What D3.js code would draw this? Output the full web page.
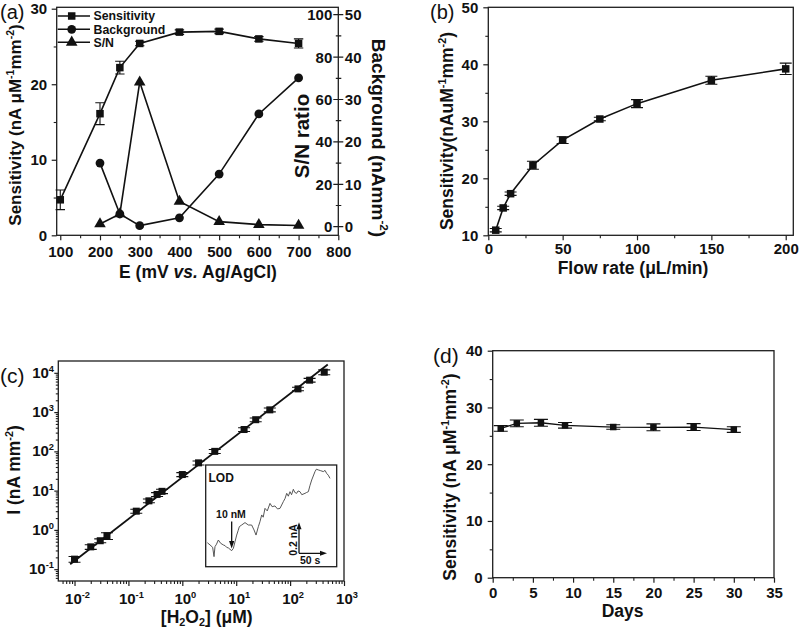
<!DOCTYPE html>
<html><head><meta charset="utf-8">
<script src="https://cdn.jsdelivr.net/npm/d3@7"></script>
<style>body{margin:0;background:#fff}</style>
</head><body><svg id="c" width="800" height="630" xmlns="http://www.w3.org/2000/svg"></svg>
<script>
// ---------- Panel (a) ----------
const aPotential = [100,200,250,300,400,500,600,700];
const aSensitivity = [4.7,16.1,22.2,25.4,26.9,27.0,26.0,25.4];
const aSensErr = [1.3,1.45,0.85,0.3,0.3,0.3,0.3,0.6];
const aBgPotential = [200,250,300,400,500,600,700];
const aBackground = [15.0,3.0,0.25,2.1,12.4,26.6,35.1];
const aSNPotential = [200,250,300,400,500,600,700];
const aSN = [1.3,6.0,68.2,11.9,2.4,1.0,0.6];
const aXTicks = [100,200,300,400,500,600,700,800];
const aYTicks = [0,10,20,30];
const aSNTicks = [0,20,40,60,80,100];
const aBgTicks = [0,10,20,30,40,50];
const aLegend = ["Sensitivity","Background","S/N"];

// ---------- Panel (b) ----------
const bFlow = [5,10,15,30,50,75,100,150,200];
const bSens = [10.9,14.8,17.3,22.3,26.7,30.4,33.1,37.2,39.2];
const bErr = [0.3,0.3,0.3,0.7,0.6,0.3,0.7,0.7,1.0];
const bXTicks = [0,50,100,150,200];
const bYTicks = [10,20,30,40,50];

// ---------- Panel (c) ----------
const cConc = [0.01,0.02,0.03,0.04,0.14,0.24,0.34,0.42,1,2,4,14,23,42,140,230,430];
const cCurrent = [0.18,0.37,0.53,0.71,3.0,5.5,8.0,9.6,25.7,51,100,360,640,1140,3900,6500,10400];
const cErr = [0.03,0.05,0.06,0.14,0.35,0.6,0.9,1.2,3,6,12,40,70,130,400,700,1500];
const cFitX = [0.0083, 500];
const cFitY = [0.134, 16300];
const cXTicks = [0.01,0.1,1,10,100,1000];
const cXExp = ["-2","-1","0","1","2","3"];
const cYTicks = [0.1,1,10,100,1000,10000];
const cYExp = ["-1","0","1","2","3","4"];
// inset (LOD trace): time in s, current in nA
const insetTime = [3.0,8.0,12.9,15.4,17.2,20,23.4,27.7,32.7,36,38.8,42,45.0,48.1,51.2,54.3,57.4,60,62.3,66.6,72.8,79.0,85.1,89.5,93.2,97.5,100.5,103.7,106.5,109.8,114,119.1,123,128.3,133,137.6,143.8,147,150.0,153,156.1,159,162.3,165,168.5,171,174.6,178,183.9,187,190.1,193,196.3,202.4,205,208.6,213,217.8,221,224.0,227,230.2];
const insetCurrent = [0.160,0.145,0.129,0.067,0.134,0.150,0.178,0.156,0.145,0.140,0.129,0.125,0.116,0.107,0.122,0.167,0.211,0.240,0.267,0.278,0.294,0.278,0.278,0.245,0.211,0.267,0.300,0.345,0.330,0.389,0.372,0.422,0.400,0.405,0.385,0.389,0.434,0.455,0.489,0.470,0.500,0.480,0.516,0.495,0.489,0.505,0.500,0.480,0.489,0.495,0.500,0.540,0.578,0.634,0.650,0.645,0.640,0.634,0.642,0.622,0.610,0.589];

// ---------- Panel (d) ----------
const dDays = [1,3,6,9,15,20,25,30];
const dSens = [26.3,27.2,27.3,26.85,26.55,26.5,26.55,26.1];
const dErr = [0.5,0.6,0.6,0.5,0.4,0.6,0.6,0.5];
const dXTicks = [0,5,10,15,20,25,30,35];
const dYTicks = [0,10,20,30,40];

// ================= drawing =================
const FONT = '"Liberation Sans", Arial, Helvetica, sans-serif';
const AX = "#1e1e1e";
const FS_TICK = 15, FS_TITLE = 17.5;
const svg = d3.select("#c");
svg.append("rect").attr("width",800).attr("height",630).attr("fill","#fff");

function mids(arr){ const m=[]; for(let i=0;i<arr.length-1;i++) m.push((arr[i]+arr[i+1])/2); return m; }

function addAxis(g, gen, transform, major, minor, fmt, pad, majLen, minLen){
  const ga = g.append("g").attr("transform", transform)
    .call(gen.tickValues(major).tickSize(majLen).tickSizeOuter(0).tickPadding(pad).tickFormat(fmt));
  ga.select(".domain").remove();
  ga.selectAll("line").attr("stroke", AX).attr("stroke-width", 1.2);
  ga.selectAll("text").attr("font-size", FS_TICK).attr("font-weight","bold")
    .attr("fill","#111").attr("font-family", FONT);
  if (minor && minor.length){
    const gm = g.append("g").attr("transform", transform)
      .call(gen.tickValues(minor).tickSize(minLen).tickFormat(()=>""));
    gm.select(".domain").remove();
    gm.selectAll("line").attr("stroke", AX).attr("stroke-width", 1.1);
  }
  return ga;
}

function frame(g, x0, x1, y0, y1){
  g.append("rect").attr("x",x0).attr("y",y0).attr("width",x1-x0).attr("height",y1-y0)
    .attr("fill","none").attr("stroke",AX).attr("stroke-width",1.3);
}

function rich(parent, x, y, parts, size, rot, anchor, weight){
  const t = parent.append("text")
    .attr("transform",`translate(${x},${y}) rotate(${rot||0})`)
    .attr("text-anchor", anchor||"middle").attr("font-size", size)
    .attr("font-weight", weight||"bold").attr("font-family", FONT).attr("fill","#111");
  let shift = 0;
  parts.forEach(p=>{
    const s = t.append("tspan").text(p.t);
    const target = p.sup ? -0.4*size : (p.sub ? 0.18*size : 0);
    if (target-shift !== 0) s.attr("dy", target-shift);
    shift = target;
    if (p.sup||p.sub) s.attr("font-size", size*0.62);
    if (p.it) s.attr("font-style","italic");
  });
  return t;
}

function errBars(g, xs, ys, errs, xS, yS, half){
  g.append("path").attr("fill","none").attr("stroke","#111").attr("stroke-width",1.1)
    .attr("d", xs.map((xv,i)=>{
      const x=xS(xv), y1=yS(ys[i]-errs[i]), y2=yS(ys[i]+errs[i]);
      return `M${x},${y1}V${y2}M${x-half},${y1}H${x+half}M${x-half},${y2}H${x+half}`;
    }).join(""));
}
function line(g, xs, ys, xS, yS, w){
  g.append("path").attr("fill","none").attr("stroke","#111").attr("stroke-width",w||1.6)
    .attr("d", d3.line().x((d,i)=>xS(xs[i])).y(d=>yS(d))(ys));
}
function squares(g, xs, ys, xS, yS, s){
  g.selectAll(null).data(ys).join("rect")
    .attr("x",(d,i)=>xS(xs[i])-s/2).attr("y",d=>yS(d)-s/2)
    .attr("width",s).attr("height",s).attr("fill","#111");
}
function panelLabel(txt, x, y, size){
  svg.append("text").attr("x",x).attr("y",y).attr("font-size",size).attr("font-family",FONT)
    .attr("fill","#111").text(txt);
}

// ---------- (a) ----------
{
  const L=56.7, R=338.3, T=7.3, B=235.3;
  const g = svg.append("g");
  const x = d3.scaleLinear([91,800],[L,R]);
  const yS = d3.scaleLinear([0,30],[B,8.7]);
  const ySN = d3.scaleLinear([0,100],[226.7,14.7]);
  const yBg = d3.scaleLinear([0,50],[226.7,14.7]);
  addAxis(g, d3.axisBottom(x), `translate(0,${B})`, aXTicks, mids(aXTicks), d3.format("d"), 6, 5, 3);
  addAxis(g, d3.axisLeft(yS), `translate(${L},0)`, aYTicks, mids(aYTicks), d3.format("d"), 4.5, 5, 3);
  // right combined axis: S/N (inside labels) and Background (outside labels)
  const ra = g.append("g");
  ra.append("path").attr("stroke",AX).attr("stroke-width",1.2).attr("fill","none")
    .attr("d", aSNTicks.map(v=>`M${R-5},${ySN(v)}H${R+5}`).join("") +
               mids(aSNTicks).map(v=>`M${R-2.5},${ySN(v)}H${R+3}`).join(""));
  ra.selectAll(null).data(aSNTicks).join("text")
    .attr("x",R-6).attr("y",d=>ySN(d)).attr("dy","0.36em").attr("text-anchor","end")
    .attr("font-size",FS_TICK).attr("font-weight","bold").attr("font-family",FONT).attr("fill","#111")
    .text(d=>d);
  ra.selectAll(null).data(aBgTicks).join("text")
    .attr("x",R+6.5).attr("y",d=>yBg(d)).attr("dy","0.36em").attr("text-anchor","start")
    .attr("font-size",FS_TICK).attr("font-weight","bold").attr("font-family",FONT).attr("fill","#111")
    .text(d=>d);
  frame(g, L, R, T, B);
  // series
  line(g, aPotential, aSensitivity, x, yS);
  errBars(g, aPotential, aSensitivity, aSensErr, x, yS, 4.7);
  squares(g, aPotential, aSensitivity, x, yS, 7.5);
  line(g, aBgPotential, aBackground, x, yBg);
  g.selectAll(null).data(aBackground).join("circle")
    .attr("cx",(d,i)=>x(aBgPotential[i])).attr("cy",d=>yBg(d)).attr("r",4.4).attr("fill","#111");
  line(g, aSNPotential, aSN, x, ySN);
  g.selectAll(null).data(aSN).join("path")
    .attr("transform",(d,i)=>`translate(${x(aSNPotential[i])},${ySN(d)})`)
    .attr("d", d3.symbol(d3.symbolTriangle, 58)()).attr("fill","#111");
  // legend
  const ly = [16, 29.3, 42.3];
  aLegend.forEach((name,i)=>{
    g.append("path").attr("d",`M${L+1},${ly[i]}H90`).attr("stroke","#111").attr("stroke-width",1.6);
    if(i===0) g.append("rect").attr("x",71.7-3.75).attr("y",ly[i]-3.75).attr("width",7.5).attr("height",7.5).attr("fill","#111");
    if(i===1) g.append("circle").attr("cx",71.7).attr("cy",ly[i]).attr("r",4.4).attr("fill","#111");
    if(i===2) g.append("path").attr("transform",`translate(71.7,${ly[i]})`).attr("d",d3.symbol(d3.symbolTriangle,58)()).attr("fill","#111");
    g.append("text").attr("x",93.5).attr("y",ly[i]).attr("dy","0.35em").attr("font-size",12.3)
      .attr("font-weight","bold").attr("font-family",FONT).attr("fill","#111").text(name);
  });
  // titles
  rich(g, 198, 278, [{t:"E (mV "},{t:"vs.",it:true},{t:" Ag/AgCl)"}], FS_TITLE);
  rich(g, 21, 125, [{t:"Sensitivity (nA μM"},{t:"-1",sup:true},{t:"mm"},{t:"-2",sup:true},{t:")"}], 17, -90);
  rich(g, 309, 136, [{t:"S/N ratio"}], 20.5, -90);
  rich(g, 372, 138, [{t:"Background (nAmm"},{t:"-2",sup:true},{t:")"}], 19, 90);
  panelLabel("(a)", 0, 18.5, 20);
}

// ---------- (b) ----------
{
  const L=488.3, R=793.3, T=7.3, B=235.3;
  const g = svg.append("g");
  const x = d3.scaleLinear([0,205.1],[L,R]);
  const y = d3.scaleLinear([10,50],[B,T]);
  addAxis(g, d3.axisBottom(x), `translate(0,${B})`, bXTicks, mids(bXTicks), d3.format("d"), 3.5, 5, 3);
  addAxis(g, d3.axisLeft(y), `translate(${L},0)`, bYTicks, mids(bYTicks), d3.format("d"), 5, 5, 3);
  frame(g, L, R, T, B);
  line(g, bFlow, bSens, x, y);
  errBars(g, bFlow, bSens, bErr, x, y, 6);
  squares(g, bFlow, bSens, x, y, 7.5);
  rich(g, 633, 274, [{t:"Flow rate (μL/min)"}], FS_TITLE);
  rich(g, 453, 131, [{t:"Sensitivity(nAuM"},{t:"-1",sup:true},{t:"mm"},{t:"-2",sup:true},{t:")"}], FS_TITLE, -90);
  panelLabel("(b)", 430, 18.5, 20);
}

// ---------- (c) ----------
{
  const L=58.3, R=344, T=361, B=581;
  const g = svg.append("g");
  const x = d3.scaleLog([0.005,1000],[L,R]);
  const y = d3.scaleLog([0.05,20000],[B,T]);
  const xMinor = [], yMinor = [];
  for (let e=-3;e<=3;e++) for (let k=2;k<=9;k++){ const v=k*Math.pow(10,e); if(v>0.005&&v<1000) xMinor.push(v); }
  for (let e=-2;e<=4;e++) for (let k=2;k<=9;k++){ const v=k*Math.pow(10,e); if(v>0.05&&v<20000) yMinor.push(v); }
  addAxis(g, d3.axisBottom(x), `translate(0,${B})`, cXTicks, xMinor, ()=>"", 3, 5, 3);
  addAxis(g, d3.axisLeft(y), `translate(${L},0)`, cYTicks, yMinor, ()=>"", 3, 4, 2.5);
  cXTicks.forEach((v,i)=>{
    rich(g, x(v)+3, 604, [{t:"10"},{t:cXExp[i],sup:true}], FS_TICK);
  });
  cYTicks.forEach((v,i)=>{
    rich(g, 54, y(v)+5, [{t:"10"},{t:cYExp[i],sup:true}], FS_TICK, 0, "end");
  });
  frame(g, L, R, T, B);
  g.append("path").attr("fill","none").attr("stroke","#111").attr("stroke-width",1.8)
    .attr("d", d3.line().x((d,i)=>x(cFitX[i])).y(d=>y(d))(cFitY));
  g.append("path").attr("fill","none").attr("stroke","#111").attr("stroke-width",1.1)
    .attr("d", cConc.map((xv,i)=>{
      const px=x(xv), y1=y(cCurrent[i]-cErr[i]), y2=y(cCurrent[i]+cErr[i]);
      return `M${px},${y1}V${y2}M${px-6},${y1}H${px+6}M${px-6},${y2}H${px+6}`;
    }).join(""));
  squares(g, cConc, cCurrent, x, y, 7);
  // inset
  const iL=205.7, iR=336.7, iT=465, iB=566.7;
  g.append("rect").attr("x",iL).attr("y",iT).attr("width",iR-iL).attr("height",iB-iT)
    .attr("fill","#fff").attr("stroke",AX).attr("stroke-width",1.3);
  const ix = d3.scaleLinear([0,242.6],[iL,iR]);
  const iy = d3.scaleLinear([0,0.678],[iB,iT]);
  g.append("path").attr("fill","none").attr("stroke","#444").attr("stroke-width",0.9)
    .attr("d", d3.line().x((d,i)=>ix(insetTime[i])).y(d=>iy(d))(insetCurrent));
  g.append("text").attr("x",208.5).attr("y",481.5).attr("font-size",12).attr("font-weight","bold")
    .attr("font-family",FONT).attr("fill","#111").text("LOD");
  g.append("text").attr("x",231).attr("y",518.3).attr("text-anchor","middle").attr("font-size",10.5)
    .attr("font-weight","bold").attr("font-family",FONT).attr("fill","#111").text("10 nM");
  const ax = ix(48.1);
  g.append("path").attr("d",`M${ax},521.5V542`).attr("stroke","#111").attr("stroke-width",1.3);
  g.append("path").attr("d",`M${ax-2.6},541L${ax+2.6},541L${ax},548.5Z`).attr("fill","#111");
  // scale bars (0.2 nA, 50 s)
  const sx0 = 299, sy0 = 553.3;
  const sx1 = sx0 + (ix(50)-ix(0)), sy1 = sy0 - (iy(0)-iy(0.2));
  g.append("path").attr("d",`M${sx0},${sy0}V${sy1+5}M${sx0},${sy0}H${sx1-5}`).attr("stroke","#111").attr("stroke-width",1.3).attr("fill","none");
  g.append("path").attr("d",`M${sx0-2.5},${sy1+6}L${sx0+2.5},${sy1+6}L${sx0},${sy1-1}Z`).attr("fill","#111");
  g.append("path").attr("d",`M${sx1-6},${sy0-2.5}L${sx1-6},${sy0+2.5}L${sx1+1},${sy0}Z`).attr("fill","#111");
  rich(g, 297, 540, [{t:"0.2 nA"}], 10.5, -90);
  g.append("text").attr("x",300).attr("y",563.5).attr("font-size",10.5).attr("font-weight","bold")
    .attr("font-family",FONT).attr("fill","#111").text("50 s");
  // titles
  rich(g, 206.7, 622.5, [{t:"[H"},{t:"2",sub:true},{t:"O"},{t:"2",sub:true},{t:"] (μM)"}], FS_TITLE);
  rich(g, 20, 470, [{t:"I (nA mm"},{t:"-2",sup:true},{t:")"}], FS_TITLE, -90);
  panelLabel("(c)", 0, 383.3, 21);
}

// ---------- (d) ----------
{
  const L=492.7, R=774, T=350.7, B=577.7;
  const g = svg.append("g");
  const x = d3.scaleLinear([0,35],[L,R]);
  const y = d3.scaleLinear([0,40],[B,T]);
  addAxis(g, d3.axisBottom(x), `translate(0,${B})`, dXTicks, mids(dXTicks), d3.format("d"), 5, 5, 3);
  addAxis(g, d3.axisLeft(y), `translate(${L},0)`, dYTicks, mids(dYTicks), d3.format("d"), 5, 5, 3);
  frame(g, L, R, T, B);
  line(g, dDays, dSens, x, y, 1.3);
  errBars(g, dDays, dSens, dErr, x, y, 7);
  squares(g, dDays, dSens, x, y, 6.5);
  rich(g, 622.6, 617, [{t:"Days"}], FS_TITLE);
  rich(g, 456, 477, [{t:"Sensitivity (nA μM"},{t:"-1",sup:true},{t:"mm"},{t:"-2",sup:true},{t:")"}], FS_TITLE, -90);
  panelLabel("(d)", 433, 363.3, 21);
}
</script></body></html>
